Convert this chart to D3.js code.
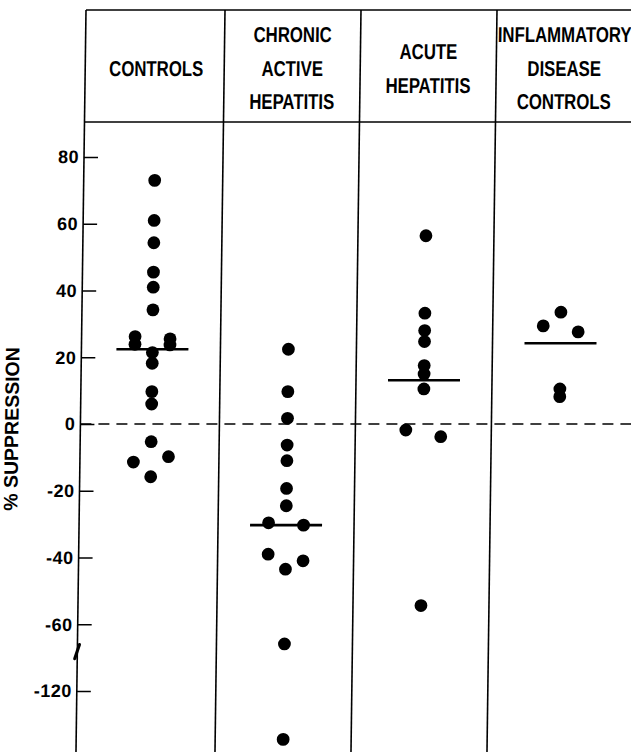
<!DOCTYPE html>
<html>
<head>
<meta charset="utf-8">
<script src="https://cdn.jsdelivr.net/npm/d3@7"></script>
<style>
  html, body { margin: 0; padding: 0; background: #fff; }
  svg { display: block; }
</style>
</head>
<body>
<svg id="chart" width="631" height="752"></svg>
<script>
// ---------------- DATA ----------------
const categories = ["CONTROLS", "CHRONIC ACTIVE HEPATITIS", "ACUTE HEPATITIS", "INFLAMMATORY DISEASE CONTROLS"];
const headerLines = [
  ["CONTROLS"],
  ["CHRONIC", "ACTIVE", "HEPATITIS"],
  ["ACUTE", "HEPATITIS"],
  ["INFLAMMATORY", "DISEASE", "CONTROLS"]
];
// % suppression values per group, with side-by-side placement (-1 left, 0 centre, 1 right)
const controlsValues = [73, 61, 54.3, 45.5, 41, 34.2, 26.2, 23.9, 25.5, 23.7, 21.4, 18.2, 9.7, 6.0, -5.3, -11.4, -9.8, -15.8];
const controlsSide   = [0, 0, 0, 0, 0, 0, -1, -1, 1, 1, 0, 0, 0, 0, 0, -1, 1, 0];
const chronicValues  = [22.4, 9.7, 1.7, -6.3, -11, -19.3, -24.5, -29.6, -30.3, -39, -43.5, -41, -65.9, -134.5];
const chronicSide    = [0, 0, 0, 0, 0, 0, 0, -1, 1, -1, 0, 1, 0, 0];
const acuteValues    = [56.4, 33.2, 28, 24.7, 17.5, 15, 10.5, -1.8, -3.8, -54.4];
const acuteSide      = [0, 0, 0, 0, 0, 0, 0, -1, 1, 0];
const inflamValues   = [33.5, 29.4, 27.6, 10.5, 8.2];
const inflamSide     = [0, -1, 1, 0, 0];
const medians = [22.4, -30.3, 13.1, 24.2];
const yTicks = [80, 60, 40, 20, 0, -20, -40, -60, -120];
const yTitle = "% SUPPRESSION";

// ---------------- LAYOUT ----------------
const W = 631, H = 752;
const frameTop = 10, headerBottom = 122, axisX = 86;
const skew = -0.0135;              // slight skew of the scanned original
const dotR = 6.4, sideStep = 17.5, medianHalf = 36;

// axis break: values below -100 are drawn shifted up by 40 units
const toDisplay = v => (v < -100 ? v + 40 : v);
const fromDisplay = d => (d < -70 ? d - 40 : d);
const breakValue = -68.2;

const svg = d3.select("#chart");
const root = svg.append("g")
  .attr("transform", `translate(0,${frameTop}) skewX(${Math.atan(skew) * 180 / Math.PI}) translate(0,${-frameTop})`);

const x = d3.scaleBand().domain(categories).range([89, 633]).padding(0);
const y = d3.scaleLinear().domain([80, -80]).range([157, 691]);

const groups = [
  {values: controlsValues, side: controlsSide},
  {values: chronicValues, side: chronicSide},
  {values: acuteValues, side: acuteSide},
  {values: inflamValues, side: inflamSide}
];

// frame lines
const lineStyle = sel => sel.attr("stroke", "#000").attr("stroke-width", 1.6).attr("fill", "none");
root.append("line").attr("x1", axisX).attr("x2", W + 20).attr("y1", frameTop).attr("y2", frameTop).call(lineStyle);
root.append("line").attr("x1", axisX).attr("x2", W + 20).attr("y1", headerBottom).attr("y2", headerBottom).call(lineStyle);
root.append("line").attr("x1", axisX).attr("x2", axisX).attr("y1", frameTop).attr("y2", H + 5).call(lineStyle);
root.selectAll("line.divider").data(categories.slice(1)).enter().append("line")
  .attr("class", "divider")
  .attr("x1", d => x(d)).attr("x2", d => x(d))
  .attr("y1", frameTop).attr("y2", H + 5)
  .call(lineStyle);

// zero dashed line
root.append("line")
  .attr("x1", axisX).attr("x2", W + 20)
  .attr("y1", y(0)).attr("y2", y(0))
  .attr("stroke", "#000").attr("stroke-width", 1.6)
  .attr("stroke-dasharray", "11,7");

// y axis
const axis = d3.axisLeft(y)
  .tickValues(yTicks.map(toDisplay))
  .tickFormat(d => String(fromDisplay(d)))
  .tickSizeInner(-14).tickSizeOuter(0).tickPadding(5);
const gAxis = root.append("g").attr("transform", `translate(${axisX},0)`).call(axis);
gAxis.select(".domain").remove();
gAxis.selectAll(".tick line").attr("stroke", "#000").attr("stroke-width", 1.6);
gAxis.selectAll(".tick text")
  .attr("fill", "#000")
  .style("font-family", "'Liberation Sans', Arial, sans-serif")
  .style("font-weight", "bold")
  .style("font-size", "18px")
  .style("letter-spacing", "0.5px");

// axis break mark
const yb = y(toDisplay(breakValue));
root.append("line")
  .attr("x1", axisX - 2.5).attr("y1", yb + 7)
  .attr("x2", axisX + 2).attr("y2", yb - 7)
  .attr("stroke", "#000").attr("stroke-width", 3.2).attr("stroke-linecap", "round");

// y title
root.append("text")
  .attr("transform", `translate(24,${y(0) + 5}) rotate(-90)`)
  .attr("text-anchor", "middle")
  .style("font-family", "'Liberation Sans', Arial, sans-serif")
  .style("font-weight", "bold")
  .style("font-size", "19.5px")
  .text(yTitle);

// headers
const headerCenter = 68, headerStep = 33.5;
categories.forEach((c, i) => {
  const lines = headerLines[i];
  const cx = x(c) + x.bandwidth() / 2;
  lines.forEach((t, j) => {
    const cy = headerCenter + (j - (lines.length - 1) / 2) * headerStep;
    root.append("text")
      .attr("transform", `translate(${cx},${cy}) scale(0.78,1)`)
      .attr("text-anchor", "middle")
      .attr("dy", "0.36em")
      .style("font-family", "'Liberation Sans', Arial, sans-serif")
      .style("font-weight", "bold")
      .style("font-size", "21.5px")
      .text(t);
  });
});

// dots and medians
groups.forEach((g, i) => {
  const cx = x(categories[i]) + x.bandwidth() / 2;
  root.append("g").selectAll("circle")
    .data(g.values.map((v, k) => ({v, s: g.side[k]})))
    .enter().append("circle")
    .attr("cx", d => cx + d.s * sideStep)
    .attr("cy", d => y(toDisplay(d.v)))
    .attr("r", dotR)
    .attr("fill", "#000");
  root.append("line")
    .attr("x1", cx - medianHalf).attr("x2", cx + medianHalf)
    .attr("y1", y(medians[i])).attr("y2", y(medians[i]))
    .attr("stroke", "#000").attr("stroke-width", 2.6);
});
</script>
</body>
</html>
